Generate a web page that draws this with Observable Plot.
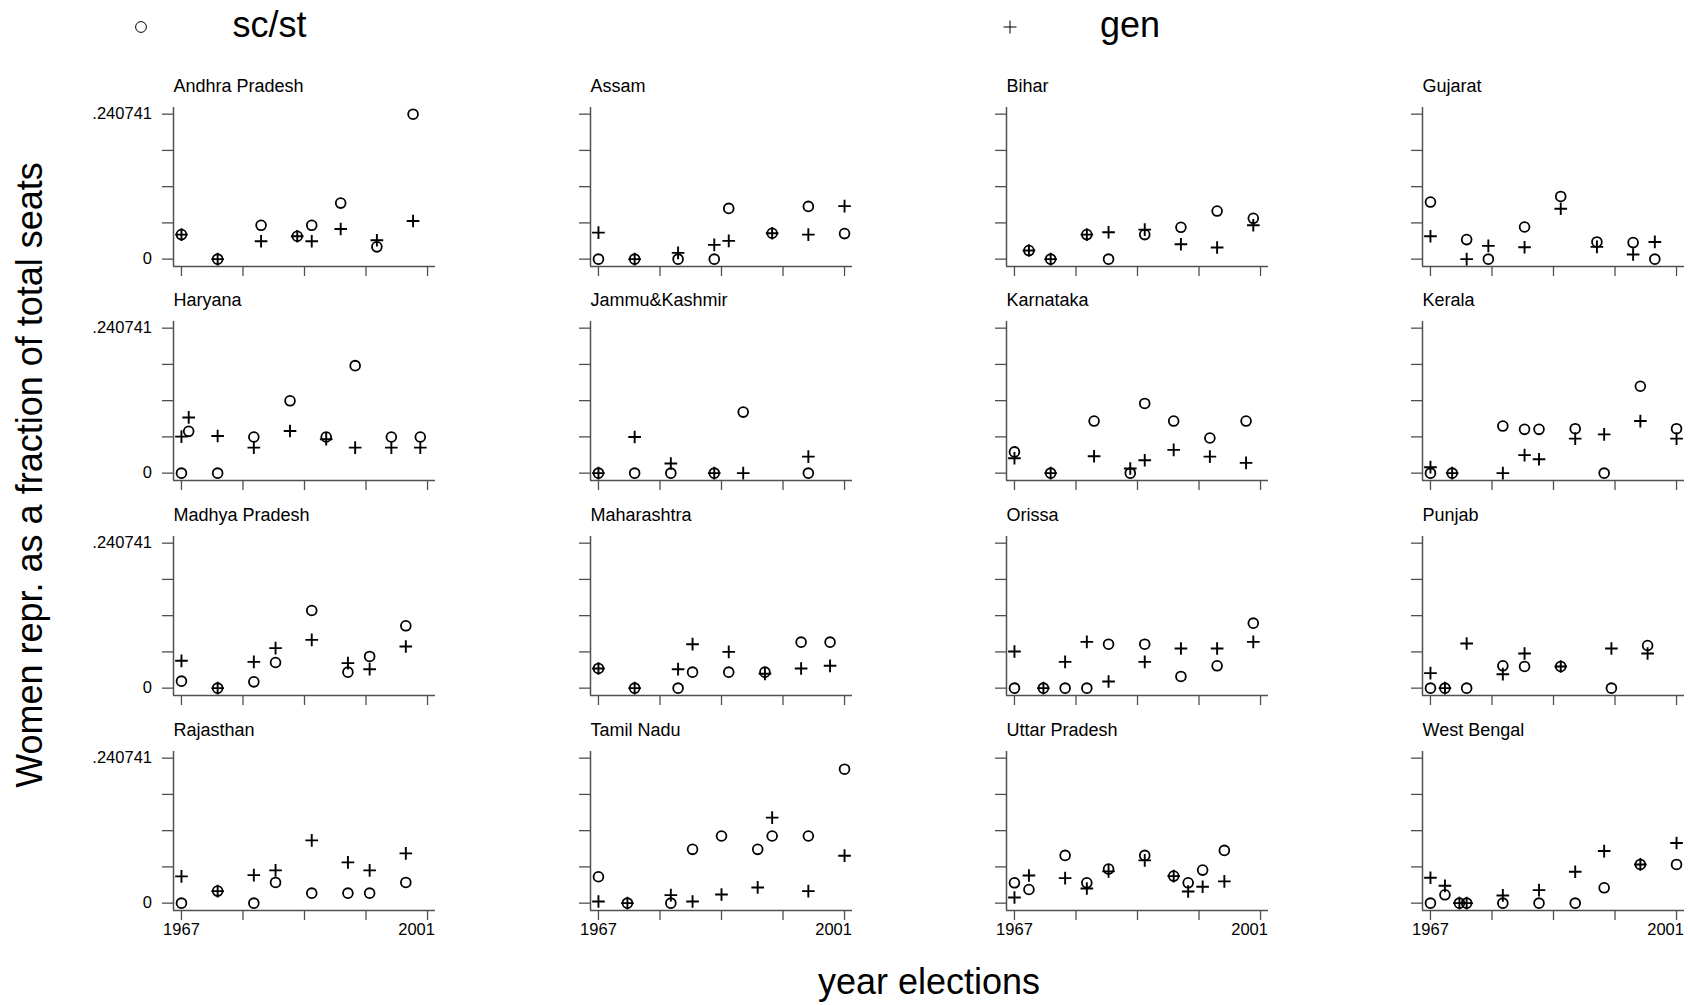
<!DOCTYPE html>
<html>
<head>
<meta charset="utf-8">
<script src="https://cdn.jsdelivr.net/npm/d3@7"></script>
<script src="https://cdn.jsdelivr.net/npm/@observablehq/plot@0.6"></script>
<style>
  body { margin: 0; background: #fff; }
  #chart { position: relative; width: 1688px; height: 1005px; overflow: hidden;
           font-family: "Liberation Sans", Arial, sans-serif; color: #000; background: #fff; }
  .panel { position: absolute; }
  .lbl { position: absolute; white-space: nowrap; line-height: 1; font-size: 36px; }
  .sw { position: absolute; overflow: visible; }
</style>
</head>
<body>
<div id="chart"></div>
<script>
// ---------------- data ----------------
const states = ["Andhra Pradesh", "Assam", "Bihar", "Gujarat",
                "Haryana", "Jammu&Kashmir", "Karnataka", "Kerala",
                "Madhya Pradesh", "Maharashtra", "Orissa", "Punjab",
                "Rajasthan", "Tamil Nadu", "Uttar Pradesh", "West Bengal"];

const years = [
  [1967, 1972, 1978, 1983, 1985, 1989, 1994, 1999],
  [1967, 1972, 1978, 1983, 1985, 1991, 1996, 2001],
  [1969, 1972, 1977, 1980, 1985, 1990, 1995, 2000],
  [1967, 1972, 1975, 1980, 1985, 1990, 1995, 1998],
  [1967, 1968, 1972, 1977, 1982, 1987, 1991, 1996, 2000],
  [1967, 1972, 1977, 1983, 1987, 1996],
  [1967, 1972, 1978, 1983, 1985, 1989, 1994, 1999],
  [1967, 1970, 1977, 1980, 1982, 1987, 1991, 1996, 2001],
  [1967, 1972, 1977, 1980, 1985, 1990, 1993, 1998],
  [1967, 1972, 1978, 1980, 1985, 1990, 1995, 1999],
  [1967, 1971, 1974, 1977, 1980, 1985, 1990, 1995, 2000],
  [1967, 1969, 1972, 1977, 1980, 1985, 1992, 1997],
  [1967, 1972, 1977, 1980, 1985, 1990, 1993, 1998],
  [1967, 1971, 1977, 1980, 1984, 1989, 1991, 1996, 2001],
  [1967, 1969, 1974, 1977, 1980, 1985, 1989, 1991, 1993, 1996],
  [1967, 1969, 1971, 1972, 1977, 1982, 1987, 1991, 1996, 2001]
];

// share of women among sc/st reserved seats
const scst = [
  [0.0408, 0, 0.0562, 0.0380, 0.0562, 0.0931, 0.0204, 0.2407],
  [0, 0, 0, 0, 0.0843, 0.0430, 0.0876, 0.0424],
  [0.0143, 0, 0.0408, 0, 0.0408, 0.0529, 0.0799, 0.0678],
  [0.0948, 0.0325, 0, 0.0534, 0.1041, 0.0286, 0.0275, 0],
  [0, 0.0694, 0, 0.0600, 0.1201, 0.0600, 0.1785, 0.0600, 0.0600],
  [0, 0, 0, 0, 0.1014, 0],
  [0.0353, 0, 0.0865, 0, 0.1157, 0.0865, 0.0584, 0.0865],
  [0, 0, 0.0782, 0.0727, 0.0727, 0.0738, 0, 0.1443, 0.0738],
  [0.0116, 0, 0.0105, 0.0426, 0.1289, 0.0266, 0.0526, 0.1035],
  [0.0327, 0, 0, 0.0266, 0.0266, 0.0266, 0.0764, 0.0764],
  [0, 0, 0, 0, 0.0730, 0.0730, 0.0194, 0.0371, 0.1079],
  [0, 0, 0, 0.0371, 0.0360, 0.0360, 0, 0.0708],
  [0, 0.0200, 0, 0.0344, 0.0166, 0.0166, 0.0166, 0.0344],
  [0.0438, 0, 0, 0.0893, 0.1115, 0.0893, 0.1115, 0.1115, 0.2224],
  [0.0338, 0.0227, 0.0793, 0.0338, 0.0566, 0.0793, 0.0449, 0.0338, 0.0549, 0.0876],
  [0, 0.0139, 0, 0, 0, 0, 0, 0.0255, 0.0643, 0.0643]
];

// share of women among general seats
const gen = [
  [0.0408, 0, 0.0297, 0.0380, 0.0297, 0.0501, 0.0314, 0.0634],
  [0.0441, 0, 0.0105, 0.0237, 0.0303, 0.0430, 0.0408, 0.0881],
  [0.0143, 0, 0.0408, 0.0446, 0.0490, 0.0248, 0.0193, 0.0562],
  [0.0380, 0, 0.0220, 0.0198, 0.0837, 0.0204, 0.0077, 0.0286],
  [0.0606, 0.0925, 0.0617, 0.0424, 0.0700, 0.0562, 0.0424, 0.0424, 0.0424],
  [0, 0.0600, 0.0160, 0, 0, 0.0275],
  [0.0248, 0, 0.0281, 0.0077, 0.0215, 0.0386, 0.0275, 0.0171],
  [0.0099, 0, 0, 0.0300, 0.0230, 0.0573, 0.0644, 0.0865, 0.0573],
  [0.0454, 0, 0.0437, 0.0664, 0.0802, 0.0415, 0.0315, 0.0692],
  [0.0327, 0, 0.0315, 0.0730, 0.0603, 0.0238, 0.0327, 0.0371],
  [0.0609, 0, 0.0437, 0.0769, 0.0111, 0.0437, 0.0659, 0.0659, 0.0769],
  [0.0249, 0, 0.0742, 0.0232, 0.0576, 0.0360, 0.0659, 0.0576],
  [0.0444, 0.0200, 0.0466, 0.0544, 0.1043, 0.0677, 0.0544, 0.0827],
  [0.0028, 0, 0.0133, 0.0028, 0.0144, 0.0261, 0.1420, 0.0200, 0.0788],
  [0.0094, 0.0460, 0.0416, 0.0244, 0.0527, 0.0710, 0.0449, 0.0194, 0.0272, 0.0361],
  [0.0422, 0.0288, 0, 0, 0.0128, 0.0216, 0.0521, 0.0865, 0.0643, 0.0998]
];

const yTicks = [0, 0.06018525, 0.1203705, 0.18055575, 0.240741];
const yTickLabels = ["0", "", "", "", ".240741"];
const xTicks = [1967, 1975.5, 1984, 1992.5, 2001];
const xTickLabels = ["1967", "", "", "", "2001"];
const seriesNames = ["sc/st", "gen"];
const yTitle = "Women repr. as a fraction of total seats";
const xTitle = "year elections";

// ---------------- layout ----------------
const FONT = '"Liberation Sans", Arial, sans-serif';
const AXIS = "#505050";
const chart = document.getElementById("chart");
const ncol = 4;
const frameW = 262, frameH = 159;
const mL = 100, mT = 40, mR = 20, mB = 40;
const xDomain = [1965.9, 2002.1];
const yDomain = [-0.0122, 0.2518];
const firstX = xTicks[0], lastX = xTicks[xTicks.length - 1];

states.forEach((name, i) => {
  const r = Math.floor(i / ncol), c = i % ncol;
  const fx = 173.3 + c * 416.33;
  const fy = 106.7 + r * 214.67;
  const rows = years[i].map((yr, j) => ({year: yr, scst: scst[i][j], gen: gen[i][j]}));
  const bottomRow = r === 3;
  const p = Plot.plot({
    width: mL + frameW + mR,
    height: mT + frameH + mB,
    marginLeft: mL, marginRight: mR, marginTop: mT, marginBottom: mB,
    style: {fontFamily: FONT, fontSize: "16px", background: "transparent", overflow: "visible", color: "#000"},
    x: {domain: xDomain, axis: null, label: null},
    y: {domain: yDomain, axis: null, label: null},
    marks: [
      Plot.ruleX([xDomain[0]], {stroke: AXIS, strokeWidth: 1.5}),
      Plot.ruleY([yDomain[0]], {stroke: AXIS, strokeWidth: 1.5}),
      Plot.axisY(yTicks, {
        anchor: "left", label: null, tickSize: 11, tickPadding: 10.5,
        tickFormat: d => c === 0 ? yTickLabels[yTicks.indexOf(d)] : "",
        fontSize: 16.5, stroke: AXIS, strokeWidth: 1.3, fill: "#000"
      }),
      Plot.axisX(xTicks, {
        anchor: "bottom", label: null, tickSize: 10, tickPadding: 3,
        tickFormat: d => (bottomRow && d === firstX) ? xTickLabels[0] : "",
        fontSize: 16.5, stroke: AXIS, strokeWidth: 1.3, fill: "#000"
      }),
      // last x label is right-aligned with the end of the axis, as in the original
      bottomRow ? Plot.text([lastX], {
        x: d => d, frameAnchor: "bottom", text: () => xTickLabels[xTickLabels.length - 1],
        textAnchor: "end", lineAnchor: "top", dx: 7.4, dy: 13, fontSize: 16.5, fill: "#000"
      }) : null,
      Plot.text([name], {
        text: d => d, frameAnchor: "top-left", dy: -21.7,
        textAnchor: "start", lineAnchor: "middle", fontSize: 18, fill: "#000"
      }),
      Plot.dot(rows, {x: "year", y: "scst", symbol: "circle", r: 4.9,
                      stroke: "#000", strokeWidth: 1.8, fill: "none"}),
      Plot.dot(rows, {x: "year", y: "gen", symbol: "plus", r: 4.15,
                      stroke: "#000", strokeWidth: 1.9})
    ]
  });
  p.classList.add("panel");
  p.style.left = (fx - mL) + "px";
  p.style.top = (fy - mT) + "px";
  chart.appendChild(p);
});

// ---------------- legend (top) ----------------
function addLabel(text, css) {
  const d = document.createElement("div");
  d.className = "lbl";
  d.textContent = text;
  Object.assign(d.style, css);
  chart.appendChild(d);
  return d;
}
const NS = "http://www.w3.org/2000/svg";
function swatch(cx, cy, kind) {
  const s = document.createElementNS(NS, "svg");
  s.setAttribute("class", "sw");
  s.setAttribute("width", 20); s.setAttribute("height", 20);
  s.style.left = (cx - 10) + "px"; s.style.top = (cy - 10) + "px";
  if (kind === "circle") {
    const e = document.createElementNS(NS, "circle");
    e.setAttribute("cx", 10); e.setAttribute("cy", 10); e.setAttribute("r", 5.4);
    e.setAttribute("fill", "none"); e.setAttribute("stroke", "#000"); e.setAttribute("stroke-width", 1);
    s.appendChild(e);
  } else {
    const e = document.createElementNS(NS, "path");
    e.setAttribute("d", "M3.5,10H16.5M10,3.5V16.5");
    e.setAttribute("stroke", "#000"); e.setAttribute("stroke-width", 1);
    s.appendChild(e);
  }
  chart.appendChild(s);
}
swatch(141, 27, "circle");
addLabel(seriesNames[0], {left: "232.5px", top: "6.5px"});
swatch(1010, 27, "plus");
addLabel(seriesNames[1], {left: "1100px", top: "6.5px"});

// ---------------- axis titles ----------------
addLabel(yTitle, {left: "30px", top: "475px", transform: "translate(-50%,-50%) rotate(-90deg)"});
addLabel(xTitle, {left: "929px", top: "963.5px", transform: "translateX(-50%)"});
</script>
</body>
</html>
